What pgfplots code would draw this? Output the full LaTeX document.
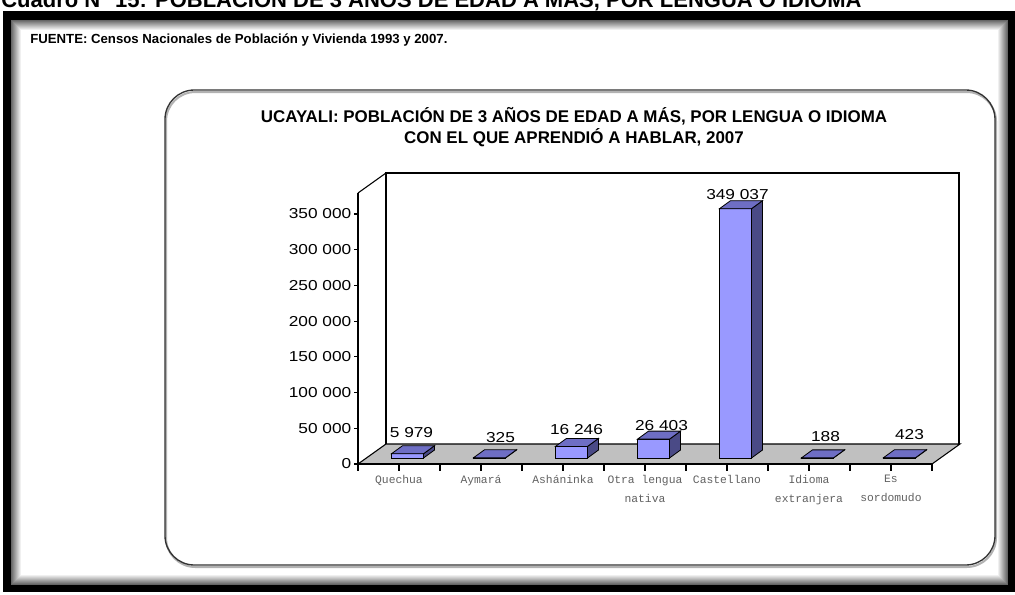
\documentclass[border=0pt]{standalone}
\usepackage{fontspec}
\setmainfont{Liberation Sans}
\setmonofont{Liberation Mono}
\usepackage{pgfplots}
\usepackage{pgfplotstable}
\pgfplotsset{compat=1.18}

\definecolor{barfront}{RGB}{153,153,255}
\definecolor{barside}{RGB}{74,74,134}
\definecolor{bartop}{RGB}{110,110,196}
\definecolor{floorgray}{RGB}{192,192,192}

\newdimen\barh
% 3D bar drawn at the data point (front-top centre);
% height = transformed meta (0..1000 over 0..379400) * 0.20325 pt
\pgfdeclareplotmark{prism}{%
  \global\barh=\dimexpr\pgfplotspointmetatransformed pt*20325/100000\relax
  \pgfsetlinewidth{0.6pt}%
  \pgfsetstrokecolor{black}%
  \pgfsetfillcolor{barfront}%
  \pgfpathrectanglecorners{\pgfqpoint{-12pt}{-\barh}}{\pgfqpoint{12pt}{0pt}}%
  \pgfusepath{fill,stroke}%
  \pgfsetfillcolor{barside}%
  \pgfpathmoveto{\pgfqpoint{12pt}{-\barh}}%
  \pgfpathlineto{\pgfqpoint{20.25pt}{\dimexpr6pt-\barh\relax}}%
  \pgfpathlineto{\pgfqpoint{20.25pt}{6pt}}%
  \pgfpathlineto{\pgfqpoint{12pt}{0pt}}%
  \pgfpathclose
  \pgfusepath{fill,stroke}%
  \pgfsetfillcolor{bartop}%
  \pgfpathmoveto{\pgfqpoint{-12pt}{0pt}}%
  \pgfpathlineto{\pgfqpoint{12pt}{0pt}}%
  \pgfpathlineto{\pgfqpoint{20.25pt}{6pt}}%
  \pgfpathlineto{\pgfqpoint{-3.75pt}{6pt}}%
  \pgfpathclose
  \pgfusepath{fill,stroke}%
}

\pgfplotstableread{
x   v      lx   ly
0.5 5979   4    20.7
1.5 325    11   20
2.5 16246  5    16.4
3.5 26403  8    14
4.5 349037 2    13.7
5.5 188    8    21
6.5 423    10   22.7
}\datatable

\begin{document}
\begin{tikzpicture}
\useasboundingbox (0,0) rectangle (761.25pt,-445.5pt);
\clip (0,0) rectangle (761.25pt,-445.5pt);
\begin{scope}[x=0.75pt,y=-0.75pt]
  % page header (cut off at the top)
  \node[anchor=base west, inner sep=0pt, font=\fontsize{16.5}{18}\selectfont\bfseries] at (1,7)
    {Cuadro N° 15: POBLACIÓN DE 3 AÑOS DE EDAD A MÁS, POR LENGUA O IDIOMA};
  % outer frame
  \fill[black] (3,11) rectangle (1020,592);
  \fill[white] (11,20) rectangle (1008,585);
  \foreach \i in {0,...,9} {
    \pgfmathsetmacro\g{60-6*\i}
    \draw[black!\g, line width=0.75pt] (11.5+\i,20.5+\i) rectangle (1007.5-\i,584.5-\i);
  }
  \node[anchor=west, inner sep=0pt, font=\fontsize{9.9}{11}\selectfont\bfseries] at (30,40)
    {FUENTE: Censos Nacionales de Población y Vivienda 1993 y 2007.};
  % rounded chart box
  \draw[black!30, line width=1.5pt, rounded corners=22pt] (166,92) rectangle (996,567);
  \draw[black!80, line width=1pt, rounded corners=22pt] (165,90) rectangle (995,565);
  % title
  \node[align=center, font=\fontsize{12.7}{15.75}\selectfont\bfseries] at (574,127.5)
    {UCAYALI: POBLACIÓN DE 3 AÑOS DE EDAD A MÁS, POR LENGUA O IDIOMA\\CON EL QUE APRENDIÓ A HABLAR, 2007};
  % back wall
  \draw[black, line width=0.8pt] (386,444) -- (386,173) -- (959,173) -- (959,444);
  % left wall top edge
  \draw[black, line width=0.8pt] (358,193) -- (386,173);
  % floor
  \filldraw[fill=floorgray, draw=black, line width=0.8pt] (358,464) -- (932,464) -- (960,444) -- (386,444) -- cycle;
\end{scope}

% front axis: ticks and labels
\begin{axis}[
  at={(268.5pt,-348pt)}, anchor=south west,
  scale only axis, width=430.5pt, height=203.25pt,
  xmin=0, xmax=7, ymin=0, ymax=379400,
  scaled y ticks=false,
  axis lines*=left,
  axis line style={line width=0.8pt},
  tick align=outside,
  major tick length=3pt,
  tick style={black, line width=0.8pt},
  xtick={0,1,...,7},
  xticklabels={,,,,,,,},
  xtick style={/pgfplots/major tick length=5pt},
  extra x ticks={0.5,1.5,2.5,3.5,4.5,5.5,6.5},
  extra x tick labels={Quechua,Aymará,Asháninka,{Otra lengua\\nativa},Castellano,{Idioma\\extranjera},{Es\\sordomudo}},
  extra x tick style={/pgfplots/major tick length=0pt,
    xticklabel style={align=center, anchor=north, yshift=-5pt, text=black!62,
      font=\fontsize{8.5}{14.2}\selectfont\ttfamily}},
  ytick={0,50000,100000,150000,200000,250000,300000,350000},
  yticklabels={0,50 000,100 000,150 000,200 000,250 000,300 000,350 000},
  yticklabel style={font=\fontsize{10.8}{13}\selectfont, xscale=1.2, inner sep=1.5pt},
]
\end{axis}

% bars axis (mid-depth plane)
\begin{axis}[
  at={(274.875pt,-343.5pt)}, anchor=south west,
  scale only axis, width=430.5pt, height=203.25pt,
  xmin=0, xmax=7, ymin=0, ymax=379400,
  hide axis, clip=false,
]
\addplot[scatter, only marks, mark=prism,
  scatter/@pre marker code/.code={},
  scatter/@post marker code/.code={},
  point meta=y, point meta min=0, point meta max=379400,
  visualization depends on={\thisrow{lx} \as \lx},
  visualization depends on={\thisrow{ly} \as \ly},
  nodes near coords={\pgfmathprintnumber[fixed,precision=0,1000 sep={\ },assume math mode=true]{\pgfplotspointmeta}},
  every node near coord/.append style={anchor=center, xshift=0.75pt*\lx, yshift=0.75pt*\ly,
    inner sep=0pt, text=black, xscale=1.2, font=\fontsize{10.8}{13}\selectfont},
] table[x=x,y=v] {\datatable};
\end{axis}
\end{tikzpicture}
\end{document}
